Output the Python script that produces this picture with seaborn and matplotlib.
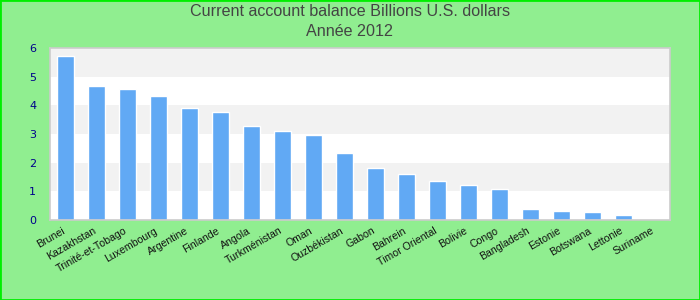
import matplotlib
matplotlib.use("Agg")
import matplotlib.pyplot as plt
import matplotlib.transforms as mtransforms
import seaborn as sns
import pandas as pd
from matplotlib.patches import Rectangle

countries = ["Brunei", "Kazakhstan", "Trinité-et-Tobago", "Luxembourg", "Argentine",
             "Finlande", "Angola", "Turkménistan", "Oman", "Ouzbékistan", "Gabon",
             "Bahrein", "Timor Oriental", "Bolivie", "Congo", "Bangladesh", "Estonie",
             "Botswana", "Lettonie", "Suriname"]
values = [5.71, 4.67, 4.57, 4.32, 3.90, 3.76, 3.28, 3.10, 2.96, 2.34, 1.81,
          1.60, 1.36, 1.22, 1.08, 0.38, 0.31, 0.28, 0.17, 0.04]
yticks = [0, 1, 2, 3, 4, 5, 6]
title_lines = ["Current account balance Billions U.S. dollars", "Année 2012"]

df = pd.DataFrame({"country": countries, "value": values})

sns.set_style("white")
plt.rcParams["font.family"] = ["Liberation Sans", "DejaVu Sans"]

fig = plt.figure(figsize=(7, 3), dpi=100, facecolor="#90ee90")
ax = fig.add_axes([50 / 700, 1 - 220 / 300, 620 / 700, 172 / 300])
ax.set_facecolor("white")

# alternating bands
for i in range(len(yticks) - 1):
    if i % 2 == 1:
        ax.axhspan(yticks[i], yticks[i + 1], color="#f2f2f2", zorder=0, lw=0)

sns.barplot(data=df, x="country", y="value", color="#61a9f4", width=0.55,
            saturation=1, ax=ax, zorder=2)

ax.set_ylim(0, 6)
ax.set_xlim(-0.5, len(countries) - 0.5)
ax.set_yticks(yticks)
ax.set_yticklabels([str(t) for t in yticks], color="#00008b", fontsize=8,
                   family="DejaVu Sans")
ax.tick_params(axis="y", length=0, pad=10)
ax.tick_params(axis="x", length=0, pad=4)
ax.set_xticks(range(len(countries)))
ax.set_xticklabels(countries, rotation=30, ha="right", rotation_mode="anchor",
                   fontsize=7.6, color="#111111")
offset = mtransforms.ScaledTranslation(-4 / 100, 0, fig.dpi_scale_trans)
for lab in ax.get_xticklabels():
    lab.set_transform(lab.get_transform() + offset)
ax.set_xlabel("")
ax.set_ylabel("")
for s in ax.spines.values():
    s.set_color("#cccccc")
    s.set_linewidth(1.2)

fig.text(0.5, 1 - 12 / 300, title_lines[0], ha="center", va="center",
         fontsize=11.6, color="#444444")
fig.text(0.5, 1 - 32 / 300, title_lines[1], ha="center", va="center",
         fontsize=11.6, color="#444444")

# figure border
fig.patches.append(Rectangle((0, 0), 1, 1, transform=fig.transFigure, fill=False,
                             edgecolor="#00ee00", linewidth=2, zorder=10))

fig.savefig("out.png", dpi=100, facecolor=fig.get_facecolor())
